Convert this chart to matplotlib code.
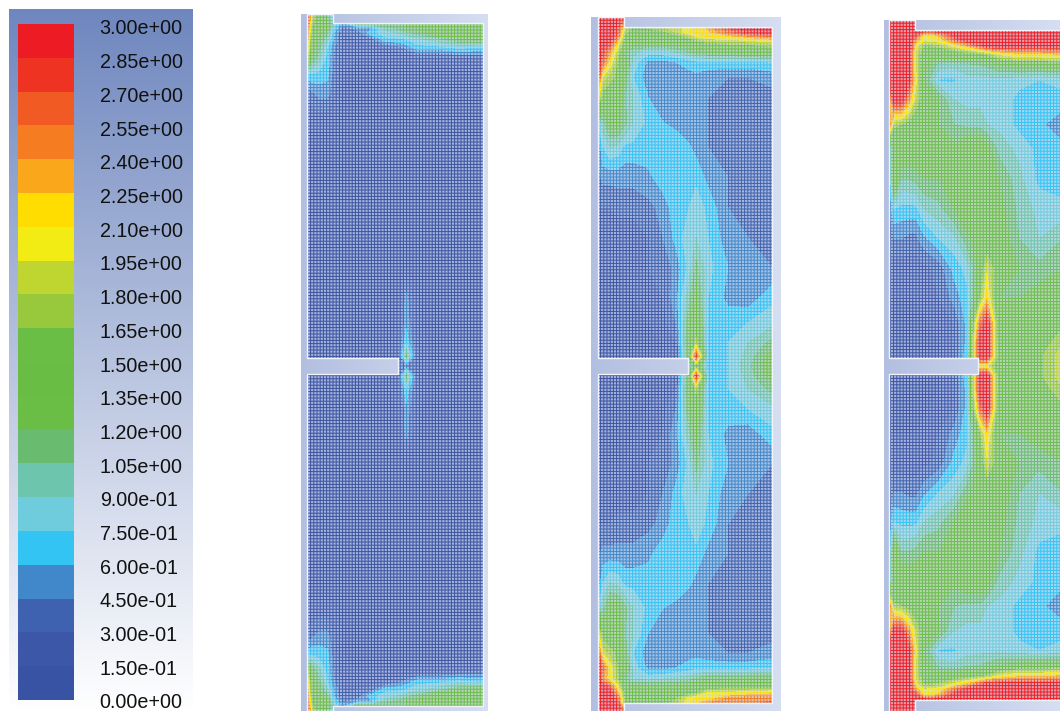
import numpy as np
import matplotlib
matplotlib.use("Agg")
import matplotlib.pyplot as plt
from matplotlib.colors import LinearSegmentedColormap
from matplotlib.patches import Polygon

W, H = 1060, 711
plt.rcParams['font.family'] = ['Liberation Sans', 'DejaVu Sans']

# ---------------- legend ----------------
BAND_COLORS = ['#3953A4', '#3C57A8', '#3E62AF', '#4188CA', '#33C4F3', '#6FCCDC', '#6DC5AD', '#69BC6F',
               '#6ABD45', '#69BD45', '#6ABD45', '#98C93C', '#BFD630', '#F2EB14', '#FFDD00',
               '#FBA71B', '#F57C20', '#F15A22', '#EF3323', '#ED1C24']
LEVELS = [0.0, 0.15, 0.30, 0.45, 0.60, 0.75, 0.90, 1.05, 1.20, 1.35, 1.50, 1.65,
          1.80, 1.95, 2.10, 2.25, 2.40, 2.55, 2.70, 2.85, 3.00]
TICK_LABELS = ['0.00e+00', '1.50e-01', '3.00e-01', '4.50e-01', '6.00e-01', '7.50e-01', '9.00e-01',
               '1.05e+00', '1.20e+00', '1.35e+00', '1.50e+00', '1.65e+00', '1.80e+00', '1.95e+00',
               '2.10e+00', '2.25e+00', '2.40e+00', '2.55e+00', '2.70e+00', '2.85e+00', '3.00e+00']

# ---------------- field samples: columns are px from left wall, rows px from the end wall ----------------
COLS = [0, 5, 12, 20, 27, 35, 50, 65, 78, 91, 98, 110, 130, 150, 174]
ROWS = [-14, 0, 5, 10, 16, 24, 35, 50, 70, 95, 120, 150, 180, 210, 240, 270, 295, 315, 328, 338]

FIELD_1 = [
    [2.9, 2.1, 1.5, .80, .80, .30, .30, .30, .30, .30, .30, .30, .30, .30, .30],
    [2.9, 1.7, 1.4, 1.3, .90, .50, 1.3, 1.3, 1.2, 1.2, 1.2, 1.35, 1.5, 1.5, 1.5],
    [2.8, 1.5, 1.3, 1.3, .70, .40, .50, .60, 1.0, 1.1, 1.2, 1.25, 1.4, 1.5, 1.5],
    [2.7, 1.4, 1.25, 1.1, .60, .30, .35, .72, .80, .90, 1.0, 1.1, 1.4, 1.5, 1.4],
    [2.5, 1.3, 1.2, .95, .55, .30, .30, .40, .72, .72, .75, .85, 1.0, 1.2, 1.3],
    [2.3, 1.3, 1.1, .75, .45, .25, .20, .20, .30, .40, .50, .70, .70, .80, .72],
    [1.8, 1.2, .95, .70, .40, .20, .15, .15, .15, .15, .15, .20, .20, .25, .30],
    [.70, .75, .70, .65, .35, .15, .10, .10, .10, .10, .10, .10, .10, .10, .10],
    [.30, .40, .50, .50, .30, .15, .10, .10, .10, .10, .10, .10, .10, .10, .10],
    [.15, .20, .20, .20, .15, .12, .10, .10, .10, .10, .10, .10, .10, .10, .10],
    [.10, .10, .10, .10, .10, .10, .10, .10, .10, .10, .10, .10, .10, .10, .10],
    [.10, .10, .10, .10, .10, .10, .10, .10, .10, .10, .10, .10, .10, .10, .10],
    [.10, .10, .10, .10, .10, .10, .10, .10, .10, .10, .10, .10, .10, .10, .10],
    [.10, .10, .10, .10, .10, .10, .10, .10, .10, .10, .10, .10, .10, .10, .10],
    [.10, .10, .10, .10, .10, .10, .10, .10, .10, .10, .12, .10, .10, .10, .10],
    [.10, .10, .10, .10, .10, .10, .10, .10, .10, .14, .50, .14, .10, .10, .10],
    [.10, .10, .10, .10, .10, .10, .10, .10, .10, .16, .55, .16, .10, .10, .10],
    [.10, .10, .10, .10, .10, .10, .10, .10, .10, .25, .72, .18, .10, .10, .10],
    [.10, .10, .10, .10, .10, .10, .10, .10, .12, .30, 1.1, .20, .10, .10, .10],
    [.10, .10, .10, .10, .10, .10, .10, .10, .15, .25, .45, .18, .10, .10, .10],
]
FIELD_2 = [
    [3.0, 3.0, 3.0, 2.9, 2.9, 1.6, 1.7, 1.8, 1.9, 2.0, 2.1, 2.3, 2.7, 3.0, 3.0],
    [3.0, 3.0, 3.0, 2.8, 2.0, 1.6, 1.7, 1.8, 1.9, 2.0, 2.1, 2.3, 2.7, 3.0, 3.0],
    [3.0, 3.0, 3.0, 2.7, 1.7, 1.5, 1.5, 1.6, 1.8, 2.1, 2.2, 2.2, 2.6, 2.9, 3.0],
    [3.0, 3.0, 3.0, 2.5, 1.6, 1.45, 1.45, 1.45, 1.5, 1.7, 1.9, 2.1, 2.1, 2.3, 2.5],
    [3.0, 3.0, 2.8, 2.1, 1.4, 1.3, 1.3, 1.3, 1.3, 1.4, 1.5, 1.6, 1.7, 1.7, 1.8],
    [3.0, 2.8, 2.4, 1.8, 1.2, .95, .85, .85, .95, 1.1, 1.2, 1.25, 1.3, 1.4, 1.45],
    [3.0, 2.6, 2.1, 1.6, 1.3, .85, .55, .55, .60, .65, .70, .70, .70, .70, .75],
    [2.8, 1.9, 1.7, 1.6, 1.2, .75, .50, .45, .50, .55, .55, .50, .45, .45, .50],
    [2.0, 1.5, 1.5, 1.45, 1.05, .90, .60, .50, .50, .50, .50, .45, .40, .40, .40],
    [.75, 1.0, 1.3, 1.3, 1.1, .90, .70, .60, .55, .50, .50, .45, .40, .40, .40],
    [.45, .75, .90, .85, .70, .70, .70, .70, .70, .62, .55, .45, .40, .35, .35],
    [.40, .50, .50, .50, .50, .50, .55, .70, .70, .70, .70, .55, .45, .40, .40],
    [.30, .30, .30, .35, .35, .35, .40, .50, .70, .75, .85, .70, .45, .35, .35],
    [.20, .20, .20, .20, .20, .20, .30, .45, .65, .85, .90, .75, .50, .45, .40],
    [.15, .15, .15, .15, .15, .20, .30, .35, .50, .80, 1.1, .80, .60, .50, .45],
    [.15, .15, .15, .15, .15, .15, .20, .30, .55, 1.0, 1.3, .75, .55, .50, .70],
    [.10, .10, .10, .10, .10, .15, .15, .25, .45, 1.2, 1.5, .70, .70, .75, .85],
    [.10, .10, .10, .10, .10, .10, .10, .15, .30, 1.3, 1.7, .70, .75, .90, 1.1],
    [.10, .10, .10, .10, .10, .10, .10, .15, .30, 1.2, 2.8, .65, .75, .95, 1.3],
    [.10, .10, .10, .10, .10, .10, .10, .15, .30, .80, 1.5, .65, .75, 1.0, 1.35],
]
FIELD_2_BOTTOM = [
    [3.0, 3.0, 3.0, 2.9, 2.9, 1.5, 1.6, 1.6, 1.7, 2.1, 2.2, 2.4, 2.5, 2.5, 2.6],
    [3.0, 3.0, 3.0, 2.8, 1.5, 1.5, 1.6, 1.6, 1.7, 2.1, 2.2, 2.4, 2.5, 2.5, 2.6],
    [3.0, 3.0, 3.0, 2.6, 1.5, 1.4, 1.4, 1.5, 1.6, 2.0, 2.1, 2.1, 2.4, 2.5, 2.5],
    [3.0, 3.0, 3.0, 2.3, 1.5, 1.4, 1.4, 1.4, 1.45, 1.5, 1.6, 2.0, 2.0, 2.1, 2.2],
    [3.0, 3.0, 2.7, 2.0, 1.3, 1.3, 1.25, 1.25, 1.3, 1.3, 1.4, 1.45, 1.5, 1.5, 1.5],
    [3.0, 2.4, 2.1, 1.7, 1.1, .90, .85, .90, .95, 1.0, 1.1, 1.2, 1.2, 1.25, 1.3],
]
FIELD_3 = [
    [3.0, 3.0, 3.0, 3.0, 3.0, 3.0, 3.0, 3.0, 3.0, 3.0, 3.0, 3.0, 3.0, 3.0, 3.0],
    [3.0, 3.0, 3.0, 3.0, 3.0, 3.0, 3.0, 3.0, 3.0, 3.0, 3.0, 3.0, 3.0, 3.0, 3.0],
    [3.0, 3.0, 3.0, 3.0, 2.8, 2.1, 2.3, 2.9, 3.0, 3.0, 3.0, 3.0, 3.0, 3.0, 3.0],
    [3.0, 3.0, 3.0, 3.0, 2.4, 2.0, 2.1, 2.6, 3.0, 3.0, 3.0, 3.0, 3.0, 3.0, 3.0],
    [3.0, 3.0, 3.0, 3.0, 2.0, 1.6, 1.7, 2.0, 2.3, 2.7, 3.0, 3.0, 3.0, 3.0, 3.0],
    [3.0, 3.0, 3.0, 3.0, 1.9, 1.4, 1.35, 1.4, 1.5, 1.6, 1.7, 2.0, 2.2, 2.2, 2.3],
    [3.0, 3.0, 3.0, 3.0, 1.9, 1.3, 1.0, .95, 1.0, 1.05, 1.1, 1.2, 1.3, 1.3, 1.4],
    [3.0, 3.0, 3.0, 2.9, 2.0, 1.2, .72, .72, .85, .85, .85, .85, .80, .75, .80],
    [2.2, 3.0, 3.0, 2.4, 1.8, 1.4, 1.2, .90, .85, .85, .85, .85, .70, .70, .70],
    [2.6, 1.7, 1.65, 1.5, 1.4, 1.3, 1.2, 1.05, 1.0, 1.0, .90, .85, .70, .65, .45],
    [.70, 1.3, 1.4, 1.4, 1.4, 1.4, 1.3, 1.25, 1.4, 1.4, 1.3, 1.0, .85, .70, .65],
    [.45, 1.6, 1.05, 1.05, 1.1, 1.2, 1.2, 1.25, 1.4, 1.4, 1.35, 1.2, .95, .70, .65],
    [.45, .75, .70, .70, .70, .90, 1.0, 1.2, 1.4, 1.4, 1.4, 1.3, 1.0, .85, .80],
    [.35, .45, .45, .40, .40, .55, .75, .85, 1.15, 1.3, 1.35, 1.35, 1.05, .90, 1.05],
    [.20, .20, .20, .20, .20, .25, .35, .65, .80, 1.35, 1.9, 1.4, 1.2, 1.1, 1.2],
    [.15, .15, .15, .15, .15, .20, .30, .50, .70, 1.6, 2.2, 1.2, 1.2, 1.3, 1.3],
    [.12, .12, .12, .12, .12, .12, .20, .30, .65, 2.6, 3.0, 1.3, 1.3, 1.4, 1.6],
    [.10, .10, .10, .10, .10, .10, .15, .30, .65, 3.0, 3.0, 1.4, 1.4, 1.5, 1.8],
    [.10, .10, .10, .10, .10, .10, .15, .30, .70, 3.0, 3.0, 1.4, 1.4, 1.6, 1.9],
    [.10, .10, .10, .10, .10, .10, .20, .30, .70, 2.0, 2.0, 1.4, 1.5, 1.6, 1.9],
]

# ---------------- layout (pixels) ----------------
PANELS = [
    dict(x0=301, x1=488, top=14, lx=307, rx=483, wt=23, wb=706, tip=398),
    dict(x0=591, x1=780, top=17, lx=598, rx=772, wt=27, wb=703, tip=688),
    dict(x0=884, x1=1060, top=20, lx=889, rx=1063, wt=30, wb=700, tip=978),
]
SLOT = 26
BAF_T, BAF_B, BAF_C = 358, 374, 366
PITCH = 3.2
LINE_W = 1.0
PALE = 0.68


def add_axes_px(x0, y0, x1, y1):
    return fig.add_axes([x0 / W, 1 - y1 / H, (x1 - x0) / W, (y1 - y0) / H])


def gradient(ax, c0, c1, horizontal=True):
    cm = LinearSegmentedColormap.from_list('g', [c0, c1])
    arr = np.linspace(0, 1, 256)[None, :] if horizontal else np.linspace(0, 1, 256)[:, None]
    ax.imshow(arr, cmap=cm, aspect='auto', extent=[0, 1, 1, 0], zorder=0)
    ax.set_xlim(0, 1)
    ax.set_ylim(1, 0)
    ax.axis('off')


def line_coverage(n, pitch, width):
    # fraction of each pixel covered by a mesh line
    centers = np.arange(n) + 0.5
    d = np.abs((centers + pitch / 2) % pitch - pitch / 2)
    return np.clip((width / 2 + 0.5 - d), 0, 1)


fig = plt.figure(figsize=(W / 100, H / 100), dpi=100, facecolor='white')

# legend background, bar, labels
gradient(add_axes_px(9, 9, 193, 711), '#6F87BF', '#FFFFFF', horizontal=False)

ax_bar = add_axes_px(18, 24, 74, 700)
ax_bar.pcolormesh([0, 1], LEVELS, np.arange(20)[:, None], cmap=matplotlib.colors.ListedColormap(BAND_COLORS))
ax_bar.set_ylim(0, 3)
ax_bar.axis('off')

ax_lab = add_axes_px(18, 27, 74, 701)
ax_lab.patch.set_alpha(0)
ax_lab.set_ylim(0, 3)
ax_lab.set_xticks([])
ax_lab.yaxis.tick_right()
ax_lab.set_yticks(LEVELS)
ax_lab.set_yticklabels(TICK_LABELS, fontsize=14.2, color='#111111')
ax_lab.tick_params(axis='y', length=0, pad=18.5)
for s in ax_lab.spines.values():
    s.set_visible(False)

# contour panels
for field, bottom, p in [(FIELD_1, [], PANELS[0]), (FIELD_2, FIELD_2_BOTTOM, PANELS[1]), (FIELD_3, [], PANELS[2])]:
    bgax = add_axes_px(p['x0'], p['top'], p['x1'], H)
    gradient(bgax, '#B2BFE0', '#D6DEF1')

    ax = add_axes_px(p['x0'], p['top'], p['x1'], H)
    ax.patch.set_alpha(0)
    ax.set_xlim(p['x0'], p['x1'])
    ax.set_ylim(H, p['top'])
    ax.axis('off')

    top = np.array(field, float)
    bot = top.copy()
    if len(bottom):
        bot[:len(bottom)] = np.array(bottom, float)
    r = np.array(ROWS, float)
    y_top = p['wt'] + r * (BAF_C - p['wt']) / 338.0
    y_bot = p['wb'] - r * (p['wb'] - BAF_C) / 338.0
    Y = np.concatenate([y_top, y_bot[::-1][1:]])
    Z = np.vstack([top, bot[::-1][1:]])
    X = p['lx'] + np.array(COLS, float) * (p['rx'] - p['lx']) / 174.0

    cs = ax.contourf(X, Y, Z, levels=LEVELS, colors=BAND_COLORS, zorder=1)

    sx = p['lx'] + SLOT
    poly_xy = [(p['lx'], p['top']), (sx, p['top']), (sx, p['wt']), (p['rx'], p['wt']),
               (p['rx'], p['wb']), (sx, p['wb']), (sx, H), (p['lx'], H),
               (p['lx'], BAF_B), (p['tip'], BAF_B), (p['tip'], BAF_T), (p['lx'], BAF_T)]
    clip = Polygon(poly_xy, closed=True, transform=ax.transData, fill=False,
                   edgecolor='#F0F3FA', lw=1.0, zorder=4)
    ax.add_patch(clip)
    cs.set_clip_path(clip)

    # the mesh: field colour stays on thin lines, cells between them are washed out
    nx, ny = p['x1'] - p['x0'], H - p['top']
    cx = line_coverage(nx, PITCH, LINE_W)[None, :]
    cy = line_coverage(ny, PITCH, LINE_W)[:, None]
    overlay = np.ones((ny, nx, 4))
    overlay[..., 0:3] = np.array([0.86, 0.88, 0.95])
    overlay[..., 3] = PALE * (1 - cx) * (1 - cy)
    im = ax.imshow(overlay, extent=[p['x0'], p['x1'], H, p['top']], aspect='auto',
                   interpolation='nearest', zorder=2)
    ax.set_xlim(p['x0'], p['x1'])
    ax.set_ylim(H, p['top'])
    im.set_clip_path(clip)

fig.savefig('out.png', dpi=100)
